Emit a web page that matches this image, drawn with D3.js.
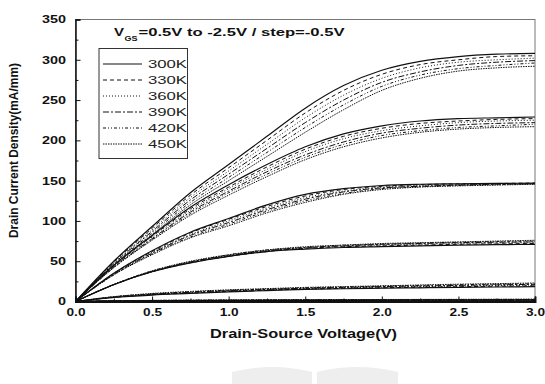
<!DOCTYPE html>
<html><head><meta charset="utf-8">
<script src="https://cdn.jsdelivr.net/npm/d3@7"></script>
<style>body{margin:0;background:#fff}svg{display:block}</style>
</head><body>
<svg id="c" width="545" height="384"></svg>
<script>
// ---- data ----
const vds = [0, 0.25, 0.5, 0.75, 1.0, 1.25, 1.5, 1.75, 2.0, 2.25, 2.5, 2.75, 3.0];
const temps = ["300K", "330K", "360K", "390K", "420K", "450K"];
const vgsSteps = ["0.5V", "0V", "-0.5V", "-1.0V", "-1.5V", "-2.0V", "-2.5V"];
const yTicks = [0, 50, 100, 150, 200, 250, 300, 350];
const xTicks = [0, 0.5, 1.0, 1.5, 2.0, 2.5, 3.0];
// Drain current density (mA/mm), one row per Vgs step, per temperature
const id300K = [
  [0, 50, 93, 135, 170, 205, 240, 268, 287, 298, 304, 307, 308],
  [0, 45, 82, 117, 145, 170, 192, 208, 218, 224, 227, 228, 229],
  [0, 35, 63, 86, 103, 120, 133, 140, 144, 145.5, 146, 146.5, 147],
  [0, 21, 37, 48, 56, 62, 65, 67, 68, 69, 70, 70.5, 71],
  [0, 5, 8, 10, 12, 13.5, 15, 15.8, 16.5, 17, 17.5, 18, 18.5],
  [0, 0.5, 0.8, 1.0, 1.1, 1.2, 1.3, 1.4, 1.5, 1.6, 1.7, 1.8, 1.9],
  [0, 0.1, 0.15, 0.2, 0.2, 0.25, 0.25, 0.3, 0.3, 0.3, 0.35, 0.35, 0.4]
];
const id330K = [
  [0, 49, 91, 132, 166, 200, 234, 262, 282, 294, 300, 304, 305],
  [0, 44, 81, 115, 142, 167, 189, 205, 215, 221, 224, 226, 227],
  [0, 35, 62, 85, 102, 118, 131, 139, 143, 145, 146, 146.5, 147],
  [0, 21, 37, 48, 56, 62, 66, 68, 69, 70, 71, 71.5, 72],
  [0, 5, 8.5, 10.5, 12.5, 14, 15.5, 16.3, 17, 17.7, 18.3, 19, 19.5],
  [0, 0.6, 0.9, 1.1, 1.3, 1.4, 1.5, 1.6, 1.7, 1.8, 1.9, 2.0, 2.1],
  [0, 0.1, 0.2, 0.2, 0.25, 0.3, 0.3, 0.35, 0.35, 0.4, 0.4, 0.45, 0.45]
];
const id360K = [
  [0, 48, 89, 129, 162, 195, 228, 256, 277, 290, 297, 300, 302],
  [0, 44, 80, 113, 140, 164, 186, 202, 212, 218, 222, 224, 225],
  [0, 34, 61, 83, 100, 116, 129, 137, 142, 144, 145, 146, 146.5],
  [0, 21, 37, 49, 57, 63, 66, 68, 70, 71, 72, 72.5, 73],
  [0, 5.5, 9, 11, 13, 14.5, 16, 17, 17.8, 18.5, 19.2, 19.8, 20.5],
  [0, 0.7, 1.0, 1.3, 1.5, 1.6, 1.7, 1.8, 1.9, 2.0, 2.1, 2.2, 2.3],
  [0, 0.1, 0.2, 0.25, 0.3, 0.3, 0.35, 0.4, 0.4, 0.45, 0.45, 0.5, 0.5]
];
const id390K = [
  [0, 47, 87, 126, 158, 190, 222, 250, 272, 285, 293, 297, 299],
  [0, 43, 78, 111, 137, 161, 182, 198, 209, 215, 219, 221, 222],
  [0, 34, 60, 82, 98, 114, 127, 136, 141, 143, 144.5, 145.5, 146],
  [0, 21, 37, 49, 57, 63, 67, 69, 71, 72, 73, 73.5, 74],
  [0, 5.5, 9, 11.5, 13.5, 15, 16.5, 17.5, 18.5, 19.2, 20, 20.7, 21.3],
  [0, 0.8, 1.2, 1.5, 1.7, 1.8, 1.9, 2.0, 2.1, 2.2, 2.3, 2.4, 2.5],
  [0, 0.15, 0.25, 0.3, 0.35, 0.35, 0.4, 0.45, 0.45, 0.5, 0.5, 0.55, 0.55]
];
const id420K = [
  [0, 46, 85, 123, 154, 185, 216, 244, 267, 281, 289, 293, 296],
  [0, 42, 77, 109, 135, 158, 179, 195, 206, 212, 216, 218, 220],
  [0, 33, 59, 80, 96, 112, 125, 134, 140, 142.5, 144, 145, 146],
  [0, 21, 38, 49, 58, 64, 67, 70, 71, 72.5, 73.5, 74.5, 75],
  [0, 6, 9.5, 12, 14, 15.5, 17, 18, 19, 20, 20.8, 21.5, 22],
  [0, 0.9, 1.3, 1.6, 1.8, 2.0, 2.1, 2.2, 2.3, 2.4, 2.5, 2.6, 2.7],
  [0, 0.15, 0.25, 0.35, 0.4, 0.4, 0.45, 0.5, 0.5, 0.55, 0.55, 0.6, 0.6]
];
const id450K = [
  [0, 45, 83, 120, 150, 180, 210, 238, 262, 277, 286, 290, 292],
  [0, 42, 76, 107, 132, 155, 176, 192, 203, 210, 214, 216, 217],
  [0, 33, 58, 79, 94, 110, 123, 133, 139, 142, 143.5, 144.5, 145.5],
  [0, 21, 38, 50, 58, 64, 68, 70, 72, 73, 74, 75, 76],
  [0, 6, 10, 12.5, 14.5, 16, 17.5, 18.5, 19.5, 20.5, 21.5, 22.2, 23],
  [0, 1.0, 1.4, 1.7, 2.0, 2.2, 2.3, 2.4, 2.5, 2.6, 2.7, 2.8, 2.9],
  [0, 0.2, 0.3, 0.4, 0.45, 0.45, 0.5, 0.55, 0.55, 0.6, 0.6, 0.65, 0.65]
];
const seriesByTemp = [id300K, id330K, id360K, id390K, id420K, id450K];

// ---- styling ----
const dashes = [null, "4,3", "1,2", "6,2,2,2", "3,2,1,2,1,2", "1.5,1"];
const widths = [1.2, 1, 1, 1, 1, 1];
const FONT = "'Liberation Sans', Arial, sans-serif";

const svg = d3.select("#c");
const x = d3.scaleLinear().domain([0, 3]).range([75.5, 535]);
const y = d3.scaleLinear().domain([0, 350]).range([301.5, 19.5]);

// watermark shapes (faint)
const wm = svg.append("g").attr("fill", "#eeeeee");
wm.append("path").attr("d", "M232,384 L232,372 Q272,362 312,372 L312,384 Z");
wm.append("path").attr("d", "M317,384 L317,372 Q357,362 398,372 L398,384 Z");

// frame
svg.append("rect").attr("x", x(0)).attr("y", y(350)).attr("width", x(3) - x(0)).attr("height", y(0) - y(350))
  .attr("fill", "none").attr("stroke", "#777").attr("stroke-width", 1);

// clip
svg.append("clipPath").attr("id", "pc").append("rect")
  .attr("x", x(0)).attr("y", y(350)).attr("width", x(3) - x(0)).attr("height", y(0) - y(350));

const line = d3.line().x((d, i) => x(vds[i])).y(d => y(d)).curve(d3.curveMonotoneX);
const plot = svg.append("g").attr("clip-path", "url(#pc)");
seriesByTemp.forEach((curves, ti) => {
  curves.forEach(vals => {
    plot.append("path").attr("d", line(vals)).attr("fill", "none").attr("stroke", "#111")
      .attr("stroke-width", widths[ti]).attr("stroke-dasharray", dashes[ti]);
  });
});

// axes
function styleLabels(sel, perChar) {
  sel.selectAll("text").attr("font-family", FONT).attr("font-weight", "bold").attr("font-size", 10.5)
    .attr("fill", "#111")
    .attr("lengthAdjust", "spacingAndGlyphs")
    .attr("textLength", function () { const t = this.textContent; return t.replace(".", "").length * perChar + (t.includes(".") ? 3 : 0); });
}
const yMinor = svg.append("g").attr("transform", `translate(${x(0)},0)`)
  .call(d3.axisLeft(y).tickValues(d3.range(25, 350, 50)).tickSize(-3).tickFormat(""));
yMinor.select(".domain").remove();
const yAx = svg.append("g").attr("transform", `translate(${x(0)},0)`)
  .call(d3.axisLeft(y).tickValues(yTicks).tickSize(-5).tickPadding(9.5).tickFormat(d3.format("d")));
yAx.select(".domain").attr("stroke", "#111").attr("stroke-width", 1.5);
styleLabels(yAx, 8);

const xMinor = svg.append("g").attr("transform", `translate(0,${y(0)})`)
  .call(d3.axisBottom(x).tickValues([0.25, 0.75, 1.25, 1.75, 2.25, 2.75]).tickSize(-3).tickFormat(""));
xMinor.select(".domain").remove();
const xAx = svg.append("g").attr("transform", `translate(0,${y(0)})`)
  .call(d3.axisBottom(x).tickValues(xTicks).tickSize(-5).tickPadding(7).tickFormat(d3.format(".1f")));
xAx.select(".domain").attr("stroke", "#111").attr("stroke-width", 2);
styleLabels(xAx, 8);
svg.selectAll(".tick line").attr("stroke", "#111");

// axis titles
svg.append("text").attr("x", 303.5).attr("y", 337.5).attr("text-anchor", "middle")
  .attr("font-family", FONT).attr("font-weight", "bold").attr("font-size", 13.5).attr("fill", "#111")
  .attr("textLength", 187).attr("lengthAdjust", "spacingAndGlyphs")
  .text("Drain-Source Voltage(V)");
svg.append("text").attr("transform", "translate(17.5,150.5) rotate(-90)").attr("text-anchor", "middle")
  .attr("font-family", FONT).attr("font-weight", "bold").attr("font-size", 12.5).attr("fill", "#111")
  .attr("textLength", 175).attr("lengthAdjust", "spacingAndGlyphs")
  .text("Drain Current Density(mA/mm)");

// title
const tg = svg.append("g").attr("font-family", FONT).attr("font-weight", "bold").attr("fill", "#111");
tg.append("text").attr("x", 114).attr("y", 36.2).attr("font-size", 10.5)
  .attr("textLength", 10).attr("lengthAdjust", "spacingAndGlyphs").text("V");
tg.append("text").attr("x", 124.5).attr("y", 40.5).attr("font-size", 6.5)
  .attr("textLength", 13).attr("lengthAdjust", "spacingAndGlyphs").text("GS");
tg.append("text").attr("x", 138.5).attr("y", 36.2).attr("font-size", 10.5)
  .attr("textLength", 206).attr("lengthAdjust", "spacingAndGlyphs").text("=0.5V to -2.5V / step=-0.5V");

// legend
const lg = svg.append("g");
lg.append("rect").attr("x", 99).attr("y", 48.5).attr("width", 88.5).attr("height", 110)
  .attr("fill", "#fff").attr("stroke", "#333").attr("stroke-width", 1);
temps.forEach((t, i) => {
  const yy = 64 + i * 16;
  lg.append("line").attr("x1", 103).attr("x2", 142).attr("y1", yy).attr("y2", yy)
    .attr("stroke", "#111").attr("stroke-width", widths[i]).attr("stroke-dasharray", dashes[i]);
  lg.append("text").attr("x", 148).attr("y", yy + 4.2).attr("font-family", FONT).attr("font-size", 11.5)
    .attr("fill", "#222").attr("textLength", 39).attr("lengthAdjust", "spacingAndGlyphs").text(t);
});
</script>
</body></html>
